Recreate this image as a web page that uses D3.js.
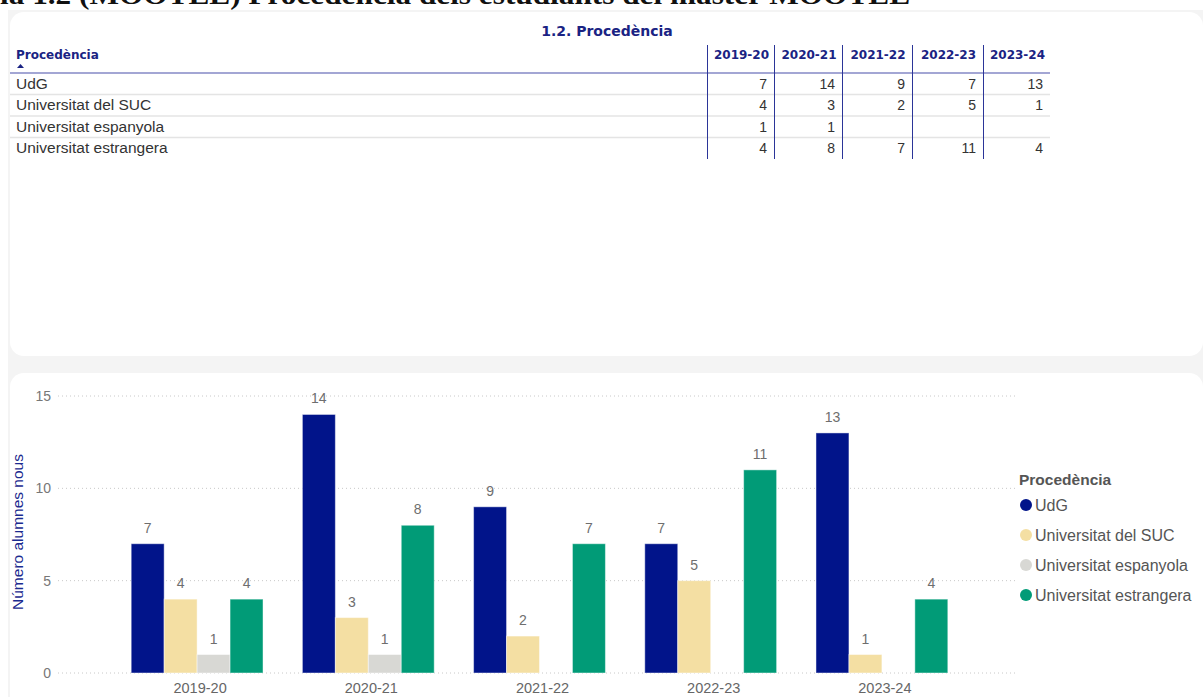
<!DOCTYPE html>
<html>
<head>
<meta charset="utf-8">
<script src="https://cdn.jsdelivr.net/npm/d3@7"></script>
<style>
  html, body { margin: 0; padding: 0; background: #fff; }
  svg { display: block; font-family: "Liberation Sans", Arial, sans-serif; }
</style>
</head>
<body>
<div id="chart"></div>
<script>
var years = ['2019-20', '2020-21', '2021-22', '2022-23', '2023-24'];
var origins = ['UdG', 'Universitat del SUC', 'Universitat espanyola', 'Universitat estrangera'];
var udg = [7, 14, 9, 7, 13];
var suc = [4, 3, 2, 5, 1];
var esp = [1, 1, null, null, null];
var estr = [4, 8, 7, 11, 4];
var yTicks = [0, 5, 10, 15];

var series = [udg, suc, esp, estr];
var colors = ['#01148a', '#f4dfa3', '#d8d8d4', '#019b77'];

var width = 1203, height = 697;

var svg = d3.select('#chart')
    .append('svg')
    .attr('width', width)
    .attr('height', height);

// page heading, cut off at the top of the shot
var headFont = '"Liberation Serif", "DejaVu Serif", serif';
var head = svg.append('text')
    .attr('y', 4)
    .style('font-family', headFont)
    .style('font-weight', 'bold')
    .style('font-size', '28px')
    .style('fill', '#111')
    .text('Taula 1.2 (MOOTEL) Procedència dels estudiants del màster MOOTEL');
var tmp = svg.append('text')
    .style('font-family', headFont)
    .style('font-weight', 'bold')
    .style('font-size', '28px')
    .text('Tau');
var full = head.node().getComputedTextLength();
var pre = tmp.node().getComputedTextLength();
tmp.remove();
var k = 910 / (full - pre);
head.attr('x', -pre * k)
    .attr('textLength', full * k)
    .attr('lengthAdjust', 'spacingAndGlyphs');

// grey canvas + white panels
svg.append('rect')
    .attr('x', 8).attr('y', 10)
    .attr('width', width).attr('height', height)
    .style('fill', '#f4f4f4');

svg.append('rect')
    .attr('x', 10).attr('y', 12)
    .attr('width', 1193).attr('height', 344)
    .attr('rx', 14)
    .style('fill', '#fff');

svg.append('rect')
    .attr('x', 10).attr('y', 373)
    .attr('width', 1193).attr('height', 340)
    .attr('rx', 14)
    .style('fill', '#fff');

// ---------- table ----------
var navy = '#1a2383';
var boldFont = '"DejaVu Sans", "Liberation Sans", sans-serif';
var colX = [707, 774, 842, 912, 983, 1050];

svg.append('text')
    .attr('x', 607).attr('y', 36)
    .attr('text-anchor', 'middle')
    .style('font-family', boldFont)
    .style('font-weight', 'bold')
    .style('font-size', '14px')
    .style('fill', navy)
    .text('1.2. Procedència');

svg.append('text')
    .attr('x', 16).attr('y', 59)
    .style('font-family', boldFont)
    .style('font-weight', 'bold')
    .style('font-size', '12px')
    .style('fill', navy)
    .text('Procedència');

svg.append('path')
    .attr('d', 'M17,68 L20.5,64 L24,68 Z')
    .style('fill', navy);

svg.selectAll('.yhead')
    .data(years)
    .enter()
    .append('text')
    .attr('class', 'yhead')
    .attr('x', (d, i) => (colX[i] + colX[i + 1]) / 2 + 1)
    .attr('y', 59)
    .attr('text-anchor', 'middle')
    .style('font-family', boldFont)
    .style('font-weight', 'bold')
    .style('font-size', '12px')
    .style('fill', navy)
    .text(d => d);

var rowY = d3.scaleBand()
    .domain(origins)
    .range([73, 159]);

svg.append('line')
    .attr('x1', 10).attr('x2', 1050)
    .attr('y1', 73).attr('y2', 73)
    .style('stroke', '#a3a6d4')
    .style('stroke-width', 2);

svg.selectAll('.rowsep')
    .data(origins.slice(1))
    .enter()
    .append('line')
    .attr('class', 'rowsep')
    .attr('x1', 10).attr('x2', 1050)
    .attr('y1', d => rowY(d))
    .attr('y2', d => rowY(d))
    .style('stroke', '#e4e4e4')
    .style('stroke-width', 1.5);

svg.selectAll('.rowname')
    .data(origins)
    .enter()
    .append('text')
    .attr('class', 'rowname')
    .attr('x', 16)
    .attr('y', d => rowY(d) + rowY.bandwidth() / 2 + 5)
    .style('font-size', '15.5px')
    .style('fill', '#333')
    .text(d => d);

series.forEach(function(s, r) {
    svg.selectAll('.cell' + r)
        .data(s)
        .enter()
        .append('text')
        .attr('x', (d, i) => colX[i + 1] - 7)
        .attr('y', rowY(origins[r]) + rowY.bandwidth() / 2 + 5)
        .attr('text-anchor', 'end')
        .style('font-size', '14px')
        .style('fill', '#333')
        .text(d => d == null ? '' : d);
});

svg.selectAll('.vline')
    .data(colX.slice(0, 5))
    .enter()
    .append('line')
    .attr('class', 'vline')
    .attr('x1', d => d + 0.5).attr('x2', d => d + 0.5)
    .attr('y1', 45).attr('y2', 159)
    .style('stroke', '#2b3598')
    .style('stroke-width', 1);

// ---------- bar chart ----------
var x0 = d3.scaleBand()
    .domain(years)
    .range([111.5, 967.5])
    .paddingInner(0.23)
    .paddingOuter(0.115);

var x1 = d3.scaleBand()
    .domain(d3.range(origins.length))
    .range([0, x0.bandwidth()]);

var y = d3.scaleLinear()
    .domain([0, 15])
    .range([673, 396]);

svg.selectAll('.grid')
    .data(yTicks)
    .enter()
    .append('line')
    .attr('class', 'grid')
    .attr('x1', 58).attr('x2', 1015)
    .attr('y1', d => y(d)).attr('y2', d => y(d))
    .style('stroke', '#c8c8c8')
    .style('stroke-width', 1)
    .style('stroke-dasharray', '1,3');

svg.selectAll('.ytick')
    .data(yTicks)
    .enter()
    .append('text')
    .attr('class', 'ytick')
    .attr('x', 51)
    .attr('y', d => y(d) + 5)
    .attr('text-anchor', 'end')
    .style('font-size', '14px')
    .style('fill', '#777')
    .text(d => d);

svg.append('text')
    .attr('transform', 'translate(23,532) rotate(-90)')
    .attr('text-anchor', 'middle')
    .style('font-size', '15.5px')
    .style('fill', '#1b2a8f')
    .text('Número alumnes nous');

var groups = svg.selectAll('.grp')
    .data(years)
    .enter()
    .append('g')
    .attr('class', 'grp')
    .attr('transform', d => 'translate(' + x0(d) + ',0)');

series.forEach(function(s, k) {
    groups.filter((d, i) => s[i] != null)
        .append('rect')
        .attr('x', x1(k))
        .attr('width', x1.bandwidth())
        .attr('y', (d) => y(s[years.indexOf(d)]))
        .attr('height', (d) => y(0) - y(s[years.indexOf(d)]))
        .style('fill', colors[k])
        .style('stroke', 'rgba(255,255,255,0.45)')
        .style('stroke-width', 1);

    groups.filter((d, i) => s[i] != null)
        .append('text')
        .attr('x', x1(k) + x1.bandwidth() / 2)
        .attr('y', (d) => y(s[years.indexOf(d)]) - 11)
        .attr('text-anchor', 'middle')
        .style('font-size', '14px')
        .style('fill', '#6e6e6e')
        .text(d => s[years.indexOf(d)]);
});

svg.selectAll('.xlab')
    .data(years)
    .enter()
    .append('text')
    .attr('class', 'xlab')
    .attr('x', d => x0(d) + x0.bandwidth() / 2 + 3)
    .attr('y', 693)
    .attr('text-anchor', 'middle')
    .style('font-size', '14.5px')
    .style('fill', '#666')
    .text(d => d);

// legend
svg.append('text')
    .attr('x', 1019).attr('y', 485)
    .style('font-weight', 'bold')
    .style('font-size', '15.5px')
    .style('fill', '#555')
    .text('Procedència');

var leg = svg.selectAll('.leg')
    .data(origins)
    .enter()
    .append('g')
    .attr('class', 'leg')
    .attr('transform', (d, i) => 'translate(1026,' + (505 + i * 30) + ')');

leg.append('circle')
    .attr('r', 6)
    .style('fill', (d, i) => colors[i]);

leg.append('text')
    .attr('x', 9)
    .attr('y', 5.5)
    .style('font-size', '16px')
    .style('fill', '#555')
    .text(d => d);
</script>
</body>
</html>
